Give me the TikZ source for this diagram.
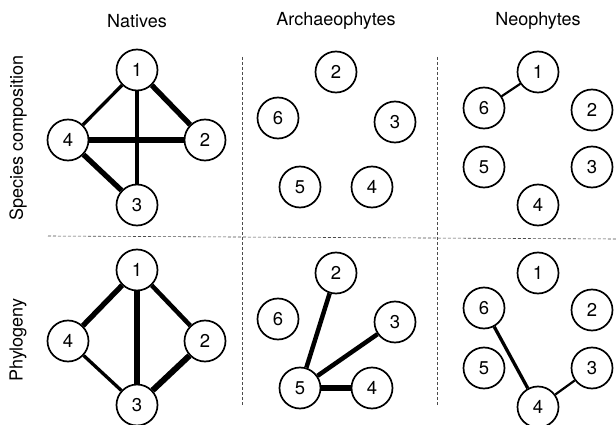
\documentclass[tikz,border=0pt]{standalone}
\usepackage{fontspec}
\setmainfont{TeX Gyre Heros}
\begin{document}
\begin{tikzpicture}[x=1pt,y=-1pt,
  sp/.style={circle,draw,line width=1.7pt,minimum size=41pt,inner sep=0pt,fill=white,font=\fontsize{18.5}{22}\selectfont},
  hdr/.style={font=\fontsize{18}{22}\selectfont},
  sep/.style={dashed,dash pattern=on 3pt off 2pt,line width=0.6pt,black!70},
  wa/.style={line width=2.2pt},
  wb/.style={line width=3.3pt},
  wc/.style={line width=4.5pt},
  wd/.style={line width=5.3pt},
  we/.style={line width=6pt}]
\useasboundingbox (0,0) rectangle (616,425);
\fill[white] (0,0) rectangle (616,425);
% headers
\node[hdr] (hN) at (137,21) {Natives};
\node[hdr] (hA) at (336,21) {Archaeophytes};
\node[hdr] (hP) at (538,21) {Neophytes};
\node[hdr,rotate=90] (rS) at (18,138) {Species composition};
\node[hdr,rotate=90] (rP) at (18,340) {Phylogeny};
% separators
\coordinate (v1t) at (242,57); \coordinate (v1b) at (242,405);
\coordinate (v2t) at (437,57); \coordinate (v2b) at (437,405);
\coordinate (hl) at (48,236); \coordinate (hr) at (616,239);
\draw[sep] (v1t) -- (v1b);
\draw[sep] (v2t) -- (v2b);
\draw[sep] (hl) -- (hr);
% top-left Natives species composition
\node[sp] (a1) at (137,70) {1};
\node[sp] (a4) at (68,140) {4};
\node[sp] (a2) at (205,140) {2};
\node[sp] (a3) at (137,205) {3};
% top-middle
\node[sp] (b2) at (336,72) {2};
\node[sp] (b6) at (278,118) {6};
\node[sp] (b3) at (395,122) {3};
\node[sp] (b5) at (300,187) {5};
\node[sp] (b4) at (372,187) {4};
% top-right
\node[sp] (c1) at (538,72) {1};
\node[sp] (c6) at (484,108) {6};
\node[sp] (c2) at (592,110) {2};
\node[sp] (c5) at (484,167) {5};
\node[sp] (c3) at (592,167) {3};
\node[sp] (c4) at (538,205) {4};
% bottom-left
\node[sp] (d1) at (137,270) {1};
\node[sp] (d4) at (68,341) {4};
\node[sp] (d2) at (205,341) {2};
\node[sp] (d3) at (137,405) {3};
% bottom-middle
\node[sp] (e2) at (336,273) {2};
\node[sp] (e6) at (278,319) {6};
\node[sp] (e3) at (395,322) {3};
\node[sp] (e5) at (300,388) {5};
\node[sp] (e4) at (372,388) {4};
% bottom-right
\node[sp] (f1) at (538,273) {1};
\node[sp] (f6) at (484,308) {6};
\node[sp] (f2) at (592,310) {2};
\node[sp] (f5) at (484,368) {5};
\node[sp] (f3) at (592,368) {3};
\node[sp] (f4) at (538,407) {4};
% edges
\draw[wb] (a1) -- (a4);
\draw[wd] (a1) -- (a2);
\draw[wb] (a1) -- (a3);
\draw[we] (a4) -- (a2);
\draw[wd] (a4) -- (a3);
\draw[wa] (c6) -- (c1);
\draw[wd] (d1) -- (d4);
\draw[wd] (d1) -- (d3);
\draw[wc] (d1) -- (d2);
\draw[wb] (d4) -- (d3);
\draw[we] (d2) -- (d3);
\draw[wc] (e5) -- (e2);
\draw[wc] (e5) -- (e3);
\draw[we] (e5) -- (e4);
\draw[wb] (f6) -- (f4);
\draw[wa] (f4) -- (f3);
\end{tikzpicture}
\end{document}
